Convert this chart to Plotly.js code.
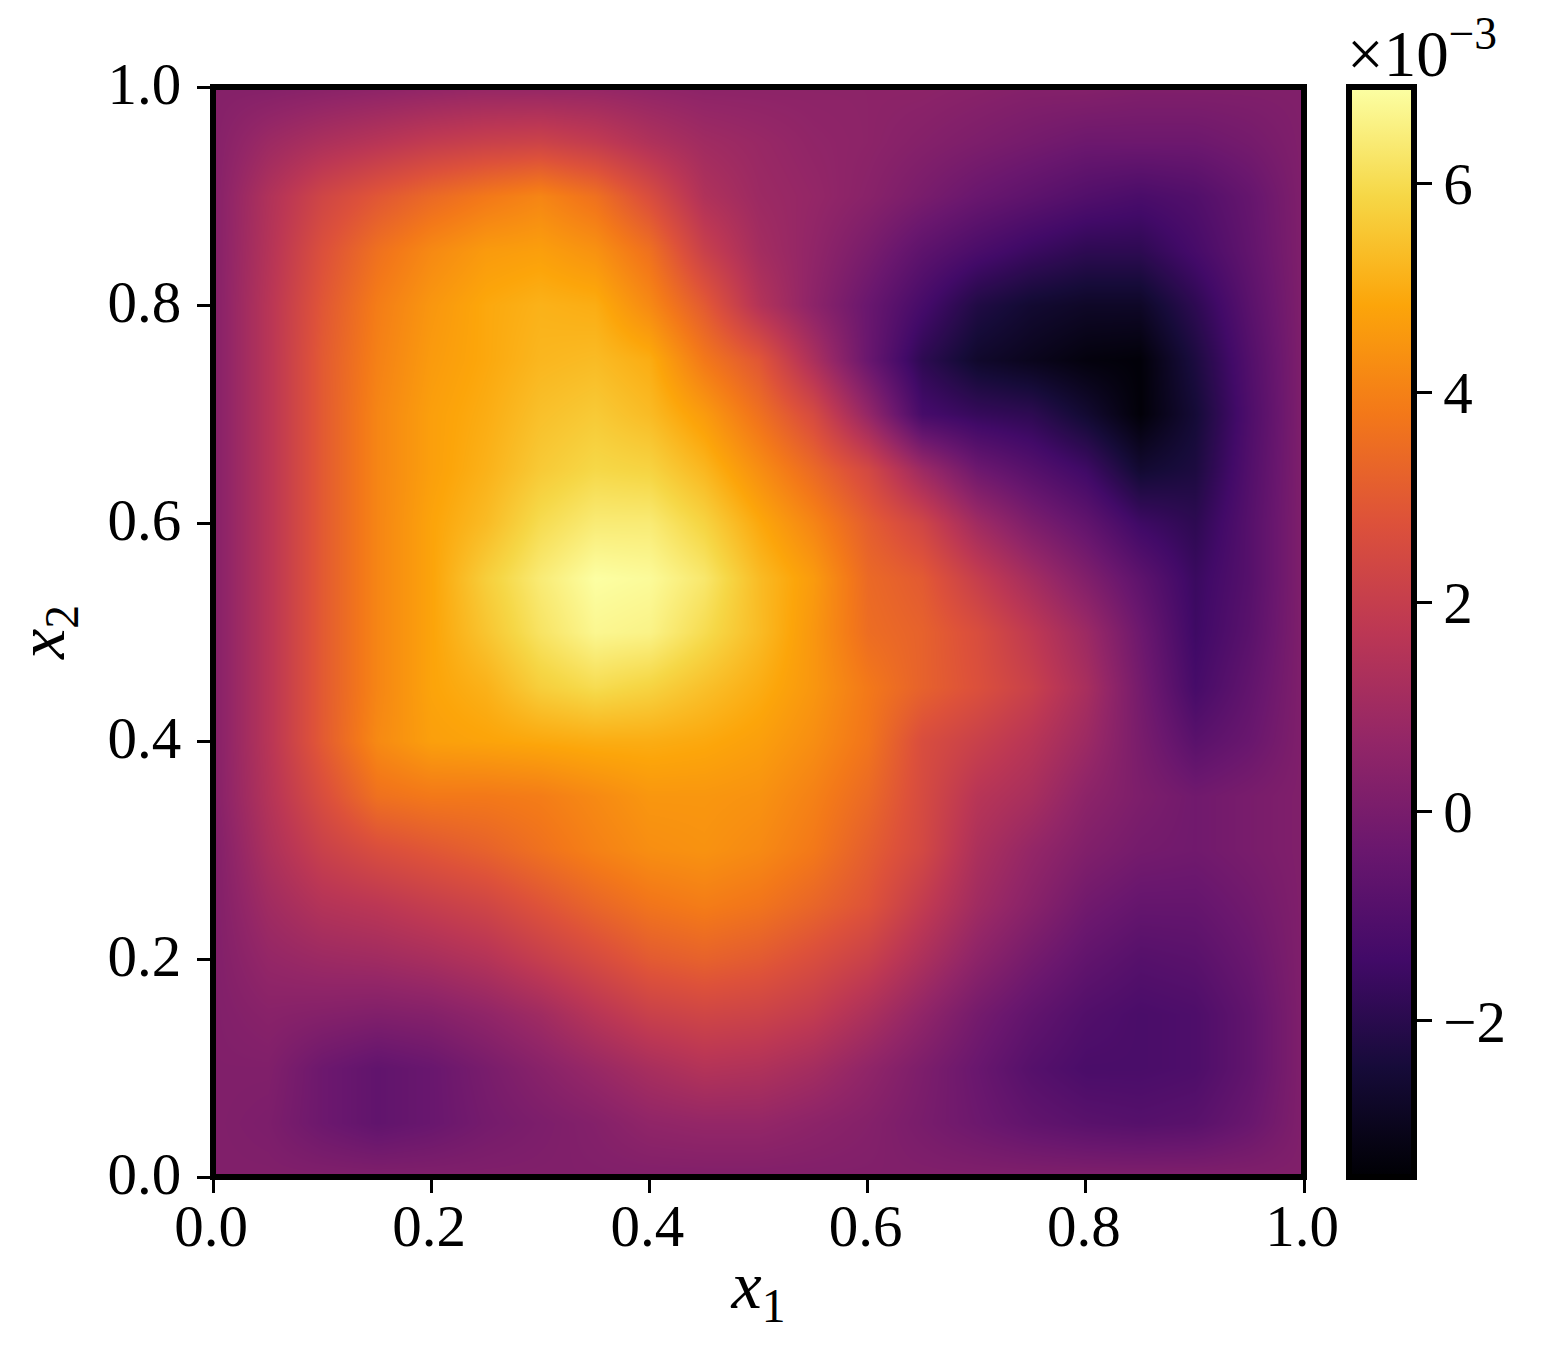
<!DOCTYPE html>
<html><head><meta charset="utf-8">
<script src="https://cdn.plot.ly/plotly-3.0.1.min.js"></script>
<style>html,body{margin:0;padding:0;background:#fff}</style></head>
<body><div id="chart" style="width:1552px;height:1367px"></div>
<script>
const x1Values = [0,.05,.1,.15,.2,.25,.3,.35,.4,.45,.5,.55,.6,.65,.7,.75,.8,.85,.9,.95,1];
const x2Values = [0,.05,.1,.15,.2,.25,.3,.35,.4,.45,.5,.55,.6,.65,.7,.75,.8,.85,.9,.95,1];
const zBottomToTop = [
[.2,.2,.2,.2,.2,.2,.2,.2,.2,.2,.2,.2,.2,.2,.2,.2,.2,.2,.2,.2,.2],
[.2,.1,-.3,-.6,-.4,-.1,.1,.3,.6,.7,.7,.5,.3,0,-.3,-.6,-.8,-.9,-.8,-.4,.2],
[.2,.2,-.3,-.6,-.4,0,.4,.8,1.2,1.5,1.4,1.1,.6,.1,-.4,-.9,-1.2,-1.2,-1.1,-.6,.2],
[.2,.4,.3,.2,.3,.6,1,1.6,2.1,2.3,2.2,1.9,1.3,.6,-.1,-.6,-1,-1.2,-1.1,-.6,.2],
[.2,.7,.9,1,1.2,1.5,2,2.5,3,3.2,3,2.6,2.1,1.3,.5,-.1,-.6,-.9,-.8,-.4,.2],
[.2,1,1.5,1.7,2,2.3,2.8,3.3,3.7,3.9,3.7,3.3,2.8,1.9,1,.4,-.2,-.5,-.5,-.2,.2],
[.2,1.3,2.1,2.6,2.9,3.2,3.6,4,4.3,4.4,4.2,3.8,3.1,2.4,1.3,.7,.2,-.1,-.2,0,.2],
[.3,1.5,2.6,3.6,3.8,3.8,3.9,4.2,4.5,4.5,4.4,4,3.4,2.5,1.6,1.2,.5,.1,-.2,0,.2],
[.3,1.6,3,4.2,4.7,4.8,4.9,5,5,4.9,4.7,4.3,3.7,2.6,2.1,1.6,.9,0,-.8,-.4,.2],
[.3,1.6,3,4.1,4.8,5.1,5.7,6,5.8,5.4,5,4.5,3.8,3.2,2.7,2.1,1.2,-.1,-1.3,-.6,.2],
[.3,1.6,3,4.1,4.8,5.5,6.2,6.7,6.6,6,5.3,4.5,3.5,3.2,2.6,1.8,.9,-.3,-1.5,-.8,.2],
[.3,1.6,3,4.1,4.8,5.7,6.4,6.9,6.8,6.3,5.3,4.6,3.4,3,2,1.1,.2,-.7,-1.6,-.9,.2],
[.3,1.6,3,4.1,4.8,5.3,6,6.4,6.4,5.8,4.9,4.1,3.1,2.3,1,.1,-.6,-1.5,-1.9,-.9,.2],
[.3,1.6,3,4.1,4.7,5.1,5.6,5.9,5.8,5.2,4.3,3.4,2.4,.9,-.3,-.9,-1.5,-2.6,-2.3,-1,.2],
[.3,1.6,3,4.1,4.7,5,5.4,5.6,5.3,4.6,3.6,2.5,.7,-1.3,-1.7,-1.9,-2.6,-3.4,-2.5,-1.1,.2],
[.3,1.6,3,4,4.6,4.9,5.2,5.3,5,3.8,2.9,1.3,-.4,-1.9,-2.7,-3,-3.3,-3.4,-2.3,-1,.2],
[.3,1.6,2.9,3.9,4.5,4.9,5.1,5,4.2,3,1.5,.5,-.4,-1.3,-2.2,-2.6,-2.8,-2.8,-1.9,-.8,.2],
[.3,1.5,2.7,3.6,4.2,4.6,4.7,4.4,3.6,2.1,1.1,.6,0,-.7,-1.2,-1.6,-1.9,-1.9,-1.3,-.6,.2],
[.3,1.4,2.3,2.9,3.4,3.8,4.1,3.6,2.6,1.4,.9,.7,.4,0,-.4,-.7,-1,-1.2,-1,-.5,.2],
[.3,.9,1.3,1.6,1.9,2.1,2.2,1.9,1.4,1,.8,.6,.5,.3,.1,-.1,-.3,-.3,-.3,-.1,.2],
[.3,.3,.4,.5,.6,.7,.7,.7,.6,.5,.5,.5,.5,.5,.4,.3,.3,.2,.2,.2,.2]
];
const tickVals = [0,.2,.4,.6,.8,1];
const tickText = ['0.0','0.2','0.4','0.6','0.8','1.0'];
const cbTickVals = [-2,0,2,4,6];
const cbTickText = ['\u22122','0','2','4','6'];
const inferno = [[0,'#000004'],[.1,'#160b39'],[.2,'#420a68'],[.3,'#6a176e'],[.4,'#932667'],[.5,'#bc3754'],[.6,'#dd513a'],[.7,'#f37819'],[.8,'#fca50a'],[.9,'#f6d746'],[1,'#fcffa4']];
const serif = '"Liberation Serif","DejaVu Serif",serif';
const axisBase = {range:[0,1],tickmode:'array',tickvals:tickVals,ticktext:tickText,ticks:'outside',ticklen:15,tickwidth:3,tickcolor:'#000',
  showline:false,showgrid:false,zeroline:false,tickfont:{family:serif,size:59,color:'#000'}};
Plotly.newPlot('chart',[{type:'heatmap',x:x1Values,y:x2Values,z:zBottomToTop,zsmooth:'best',colorscale:inferno,zmin:-3.49,zmax:6.92,hoverinfo:'skip',
  colorbar:{x:1.0412,xanchor:'left',xpad:0,ypad:0,y:0,yanchor:'bottom',len:1,thickness:65,outlinewidth:6,outlinecolor:'#000',
    tickmode:'array',tickvals:cbTickVals,ticktext:cbTickText,ticks:'outside',ticklen:15,tickwidth:3,tickcolor:'#000',tickfont:{family:serif,size:59,color:'#000'}}}],
{width:1552,height:1367,margin:{l:213,r:248,t:87,b:190},paper_bgcolor:'#fff',plot_bgcolor:'#fff',
 xaxis:Object.assign({},axisBase,{ticklabelstandoff:-18,ticklabelshift:-2,title:{text:'<i>x</i><sub>1</sub>',font:{family:serif,size:68,color:'#000'},standoff:2}}),
 yaxis:Object.assign({},axisBase,{ticklabelstandoff:4,ticklabelshift:-4,title:{text:'<i>x</i><sub>2</sub>',font:{family:serif,size:68,color:'#000'},standoff:20}}),
 shapes:[{type:'rect',xref:'paper',yref:'paper',x0:0,x1:1,y0:0,y1:1,line:{color:'#000',width:6},fillcolor:'rgba(0,0,0,0)',layer:'above'}],
 annotations:[{xref:'paper',yref:'paper',x:1.0375,y:1.0,xanchor:'left',yanchor:'bottom',showarrow:false,yshift:-5,text:'\u00d710<sup>\u22123</sup>',font:{family:serif,size:65,color:'#000'}}]
},{displayModeBar:false,responsive:false});
</script></body></html>
